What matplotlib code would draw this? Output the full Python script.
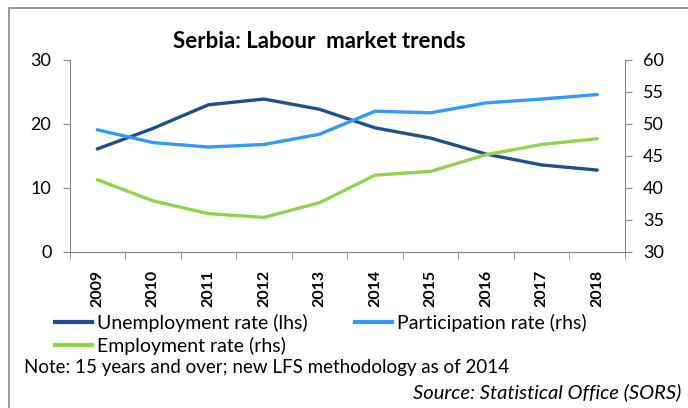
import numpy as np
import matplotlib.pyplot as plt
from matplotlib.lines import Line2D
from matplotlib.patches import Rectangle

# dados
anos = ['2009', '2010', '2011', '2012', '2013', '2014', '2015', '2016', '2017', '2018']
desemprego = [16.1, 19.3, 23.0, 23.9, 22.3, 19.4, 17.8, 15.3, 13.6, 12.8]
participacao = [49.1, 47.1, 46.4, 46.8, 48.4, 52.0, 51.75, 53.3, 53.9, 54.6]
emprego = [41.3, 38.0, 36.0, 35.4, 37.7, 42.0, 42.6, 45.2, 46.8, 47.7]

cor_desemprego = '#1F4E8C'
cor_participacao = '#3399FF'
cor_emprego = '#92D050'
cor_eixo = '#868686'

plt.rcParams['font.family'] = ['Lato', 'DejaVu Sans']

W, H = 688, 408
fig = plt.figure(figsize=(W / 100, H / 100), dpi=100)

# moldura cinza em volta do gráfico
fig.patches.append(Rectangle((9 / W, -0.1), 1.2, 1 - 7.5 / H + 0.1,
                             transform=fig.transFigure, fill=False,
                             edgecolor=cor_eixo, linewidth=1.2))

ax = fig.add_axes([69.5 / W, 1 - 252 / H, (625 - 69.5) / W, (252 - 60) / H])
ax2 = ax.twinx()

x = np.arange(len(anos))
ax.plot(x, desemprego, color=cor_desemprego, linewidth=2.4, solid_capstyle='round')
ax2.plot(x, participacao, color=cor_participacao, linewidth=2.4, solid_capstyle='round')
ax2.plot(x, emprego, color=cor_emprego, linewidth=2.4, solid_capstyle='round')

ax.set_xlim(-0.5, len(anos) - 0.5)
ax.set_ylim(0, 30)
ax2.set_ylim(30, 60)
ax.set_yticks([0, 10, 20, 30])
ax2.set_yticks([30, 35, 40, 45, 50, 55, 60])

ax.set_xticks(x)
ax.set_xticklabels(anos, rotation=90, fontweight='bold', fontsize=11.5)
ax.set_xticks(np.arange(-0.5, len(anos) + 0.5), minor=True)
ax.tick_params(axis='x', which='major', length=0, pad=13)
ax.tick_params(axis='x', which='minor', length=5, color=cor_eixo, direction='out')

for a in (ax, ax2):
    a.spines['top'].set_visible(False)
    for s in ('left', 'right', 'bottom'):
        a.spines[s].set_color(cor_eixo)
    a.tick_params(axis='y', labelsize=13, length=5, color=cor_eixo, pad=8)
ax2.spines['left'].set_visible(False)
ax.spines['right'].set_visible(False)

fig.text(319 / W, 1 - 42 / H, 'Serbia: Labour  market trends', ha='center', va='center',
         fontsize=16, fontweight='bold')

# legenda: cada entrada posicionada como no original
entradas = [(cor_desemprego, 'Unemployment rate (lhs)', 55, 323),
            (cor_participacao, 'Participation rate (rhs)', 355, 323),
            (cor_emprego, 'Employment rate (rhs)', 55, 346)]
for cor, rotulo, px, py in entradas:
    fig.legend([Line2D([], [], color=cor, linewidth=3)], [rotulo], loc='center left',
               bbox_to_anchor=(px / W, 1 - py / H), frameon=False, fontsize=14,
               handlelength=1.9, handletextpad=0.25, borderaxespad=0, borderpad=0)

fig.text(24 / W, 1 - 368 / H, 'Note: 15 years and over; new LFS methodology as of 2014',
         ha='left', va='center', fontsize=13.5)
fig.text(681 / W, 1 - 392 / H, 'Source: Statistical Office (SORS)',
         ha='right', va='center', fontsize=14.5, style='italic')

fig.savefig('out.png', dpi=100)
